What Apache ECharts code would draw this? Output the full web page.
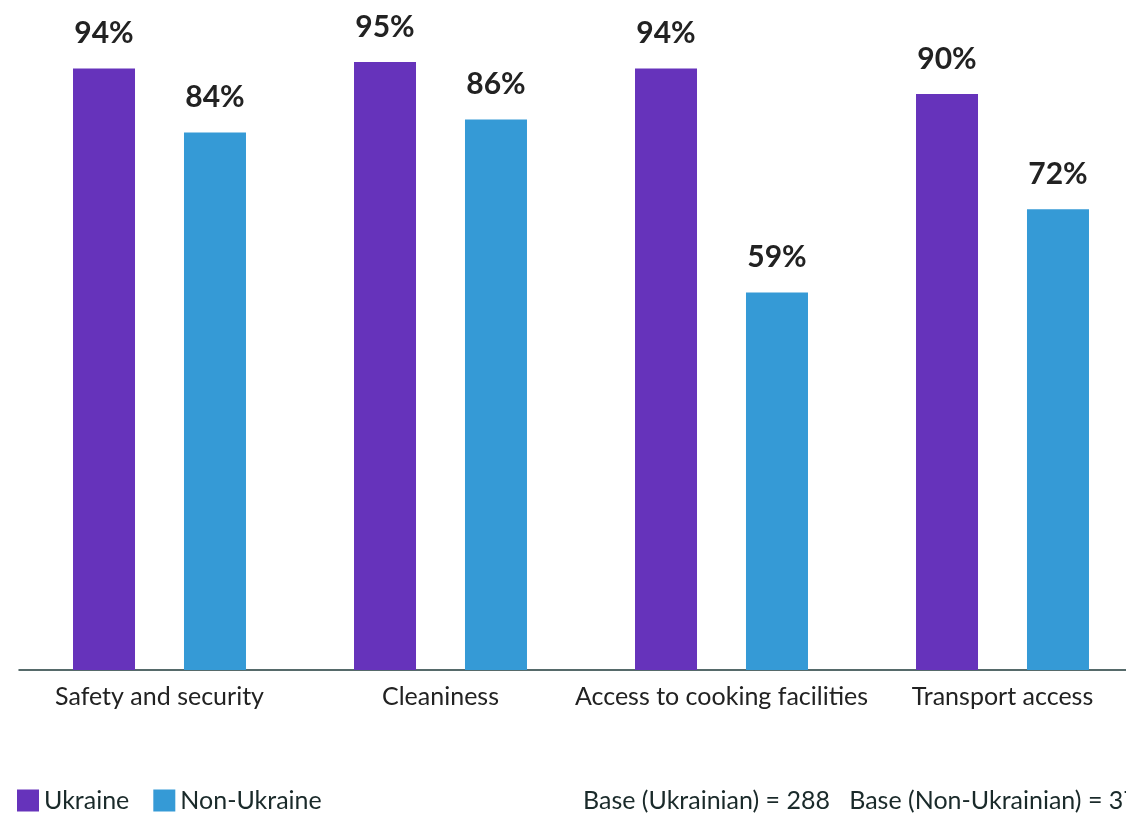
<!DOCTYPE html>
<html>
<head>
<meta charset="utf-8">
<script src="https://cdn.jsdelivr.net/npm/echarts@6/dist/echarts.min.js"></script>
<style>html,body{margin:0;padding:0;background:#fff;overflow:hidden;width:1126px;height:813px;}#c{width:1160px;height:813px;}</style>
</head>
<body>
<div id="c"></div>
<script>
const categories = ['Safety and security', 'Cleaniness', 'Access to cooking facilities', 'Transport access'];
const ukraine = [94, 95, 94, 90];
const nonUkraine = [84, 86, 59, 72];
const seriesNames = ['Ukraine', 'Non-Ukraine'];
const baseNote = 'Base (Ukrainian) = 288   Base (Non-Ukrainian) = 37';

const FONT = 'Lato';
const chart = echarts.init(document.getElementById('c'), null, {renderer: 'canvas'});
const labelStyle = {
  show: true, position: 'top', distance: 20,
  formatter: p => p.value + '%',
  fontFamily: FONT, fontWeight: 'bold', fontSize: 30, color: '#222'
};
chart.setOption({
  animation: false,
  backgroundColor: '#fff',
  grid: {left: 19, right: 17, top: 30, bottom: 143, containLabel: false},
  legend: {
    left: 12, top: 783, icon: 'rect', itemWidth: 22, itemHeight: 22, itemGap: 24,
    textStyle: {fontFamily: FONT, fontSize: 25, color: '#1a2a2a'},
    data: seriesNames
  },
  xAxis: {
    type: 'category', data: categories,
    axisLine: {lineStyle: {color: '#1f3a3a', width: 1.5}},
    axisTick: {show: false},
    axisLabel: {interval: 0, fontFamily: FONT, fontSize: 25, color: '#222', margin: 14}
  },
  yAxis: {type: 'value', min: 0, max: 100, show: false, splitLine: {show: false}},
  graphic: [{
    type: 'text', left: 583, top: 788,
    style: {text: baseNote, fontFamily: FONT, fontSize: 25, fill: '#1a2a2a'}
  }],
  series: [
    {name: seriesNames[0], type: 'bar', data: ukraine, barWidth: 62, barGap: '79%',
     itemStyle: {color: '#6633BB'}, label: labelStyle},
    {name: seriesNames[1], type: 'bar', data: nonUkraine, barWidth: 62,
     itemStyle: {color: '#359AD6'}, label: labelStyle}
  ]
});
</script>
</body>
</html>
